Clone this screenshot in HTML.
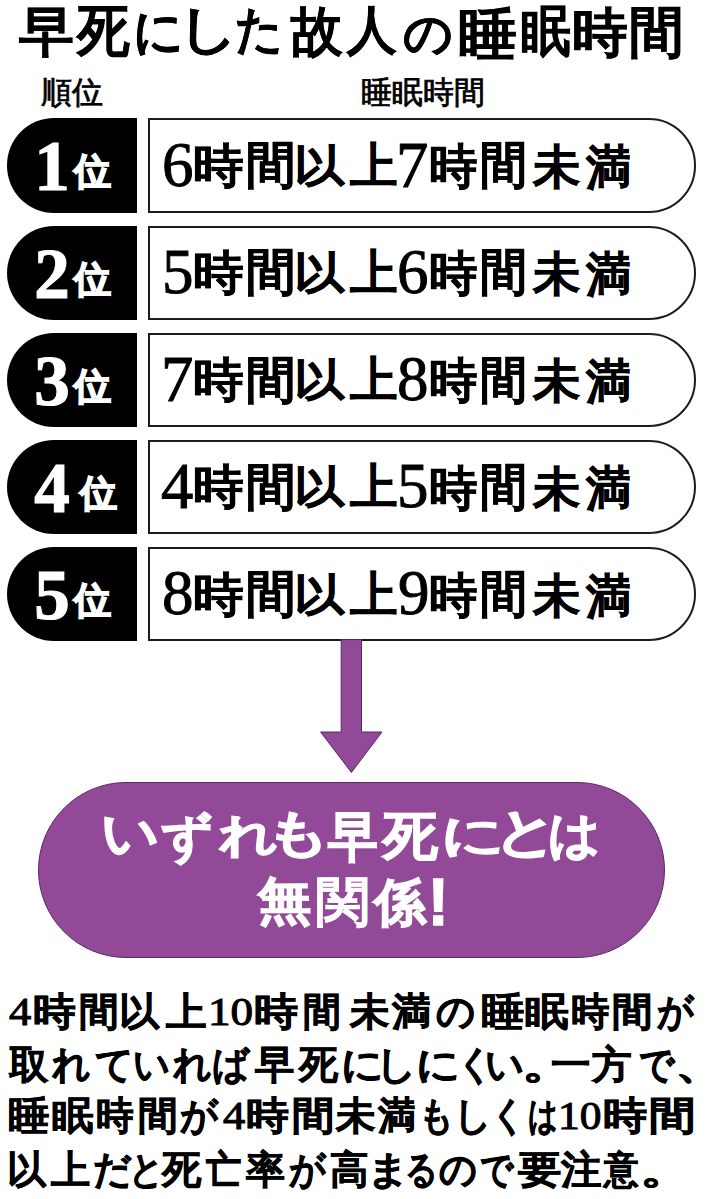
<!DOCTYPE html>
<html lang="ja">
<head>
<meta charset="utf-8">
<style>
html,body{margin:0;padding:0;background:#fff;}
body{width:712px;height:1199px;position:relative;overflow:hidden;font-family:"Liberation Serif",serif;color:#111;}
.abs{position:absolute;white-space:nowrap;}
.title{position:absolute;left:0;top:0;width:712px;height:70px;}
.tch{position:absolute;transform-origin:0 0;white-space:nowrap;font-size:53px;line-height:79.5px;font-weight:bold;-webkit-text-stroke:0.4px #000;color:#000;}
.lbl{font-family:"Liberation Sans",sans-serif;font-size:31.3px;font-weight:normal;line-height:36px;-webkit-text-stroke:0.8px #000;color:#000;}
.row{position:absolute;left:0;width:712px;height:94px;}
.pill{position:absolute;left:6.5px;top:0;width:130.3px;height:94.3px;background:#000;border-radius:47.15px 0 0 47.15px;}
.box{position:absolute;left:147.5px;top:0;width:548.5px;height:94.3px;box-sizing:border-box;border:2px solid #1c1c1c;border-radius:0 47.15px 47.15px 0;background:#fff;}
.rk{position:absolute;transform-origin:0 0;white-space:nowrap;font-size:52px;line-height:78px;font-weight:bold;-webkit-text-stroke:0.5px #000;color:#000;}
.rd{position:absolute;transform-origin:0 0;white-space:nowrap;font-size:60px;line-height:90px;font-weight:normal;-webkit-text-stroke:0.9px #000;color:#000;}
.lab{position:absolute;left:0;top:0;width:130px;height:93.5px;color:#fff;white-space:nowrap;}
.num{position:absolute;left:15.5px;width:60px;text-align:center;top:2px;font-size:71px;font-weight:bold;line-height:93px;-webkit-text-stroke:1.2px #fff;}
.rank{position:absolute;left:67px;top:7px;font-family:"Liberation Sans",sans-serif;font-size:36.5px;font-weight:bold;line-height:93px;-webkit-text-stroke:1.6px #fff;}
.purple{position:absolute;left:38px;top:781.5px;width:626.5px;height:176.5px;background:#924a98;border-radius:88.25px;box-sizing:border-box;border:1.2px solid #5a2566;}
.ptext{position:absolute;left:0;top:0;width:712px;height:1px;}
.pch{position:absolute;transform-origin:0 0;white-space:nowrap;font-family:"Liberation Sans",sans-serif;font-size:55px;line-height:80px;font-weight:bold;-webkit-text-stroke:1.4px #fff;color:#fff;}
.pline{position:absolute;left:0;width:712px;height:52px;}
.pc{position:absolute;top:0;transform-origin:0 0;transform-origin:0 0;white-space:nowrap;font-size:39px;font-weight:bold;line-height:52px;-webkit-text-stroke:0.6px #000;color:#000;}
.pd{font-weight:normal;-webkit-text-stroke:1px #000;}
</style>
</head>
<body>
<div class="title"><span class="tch" style="left:18.5px;top:-7.38px;transform:scale(1.0385,1.0059)">早</span><span class="tch" style="left:76.8px;top:-9.92px;transform:scale(1.0,1.0612)">死</span><span class="tch" style="left:132.76px;top:-5.64px;transform:scale(0.9356,0.9568)">に</span><span class="tch" style="left:177.51px;top:-9.3px;transform:scale(1.1194,0.9833)">し</span><span class="tch" style="left:235.21px;top:-7.58px;transform:scale(0.8936,0.9633)">た</span><span class="tch" style="left:290.96px;top:-8.13px;transform:scale(0.963,1.0096)">故</span><span class="tch" style="left:346.94px;top:-7.87px;transform:scale(0.9444,0.9906)">人</span><span class="tch" style="left:403.08px;top:-0.85px;transform:scale(0.9216,0.9024)">の</span><span class="tch" style="left:457.88px;top:-6.47px;transform:scale(1.1176,1.0392)">睡</span><span class="tch" style="left:521.06px;top:-8.55px;transform:scale(0.9412,1.0392)">眠</span><span class="tch" style="left:571.88px;top:-6.49px;transform:scale(1.06,1.0075)">時</span><span class="tch" style="left:628.92px;top:-9.06px;transform:scale(1.0417,1.0471)">間</span></div>
<div class="abs lbl" style="left:41px;top:74.5px;">順位</div>
<div class="abs lbl" style="left:360.5px;top:75px;">睡眠時間</div>

<div class="row" style="top:118.3px;">
  <div class="pill"><div class="lab"><span class="num">1</span><span class="rank">位</span></div></div>
  <div class="box"></div>
  <span class="rd" style="left:161.72px;top:-0.8px;transform:scale(1.05,1.05)">6</span><span class="rk" style="left:193.04px;top:12.48px;transform:scale(0.9796,0.9096)">時</span><span class="rk" style="left:245.69px;top:9.88px;transform:scale(0.9574,0.966)">間</span><span class="rk" style="left:293.8px;top:15.59px;transform:scale(0.966,0.8423)">以</span><span class="rk" style="left:349.5px;top:12.42px;transform:scale(0.9039,0.9146)">上</span><span class="rd" style="left:395.77px;top:-1.5px;transform:scale(1.0769,1.0769)">7</span><span class="rk" style="left:429.14px;top:12.65px;transform:scale(0.9286,0.9212)">時</span><span class="rk" style="left:480.38px;top:9.88px;transform:scale(0.9106,0.966)">間</span><span class="rk" style="left:532.61px;top:13.75px;transform:scale(0.9113,0.9039)">未</span><span class="rk" style="left:586.47px;top:13.52px;transform:scale(0.8654,0.9235)">満</span>
</div>
<div class="row" style="top:225.5px;">
  <div class="pill"><div class="lab"><span class="num">2</span><span class="rank">位</span></div></div>
  <div class="box"></div>
  <span class="rd" style="left:161.72px;top:-0.8px;transform:scale(1.05,1.05)">5</span><span class="rk" style="left:193.04px;top:12.48px;transform:scale(0.9796,0.9096)">時</span><span class="rk" style="left:245.69px;top:9.88px;transform:scale(0.9574,0.966)">間</span><span class="rk" style="left:293.8px;top:15.59px;transform:scale(0.966,0.8423)">以</span><span class="rk" style="left:349.5px;top:12.42px;transform:scale(0.9039,0.9146)">上</span><span class="rd" style="left:396.72px;top:-0.8px;transform:scale(1.05,1.05)">6</span><span class="rk" style="left:429.14px;top:12.65px;transform:scale(0.9286,0.9212)">時</span><span class="rk" style="left:480.38px;top:9.88px;transform:scale(0.9106,0.966)">間</span><span class="rk" style="left:532.61px;top:13.75px;transform:scale(0.9113,0.9039)">未</span><span class="rk" style="left:586.47px;top:13.52px;transform:scale(0.8654,0.9235)">満</span>
</div>
<div class="row" style="top:332.7px;">
  <div class="pill"><div class="lab"><span class="num">3</span><span class="rank">位</span></div></div>
  <div class="box"></div>
  <span class="rd" style="left:160.77px;top:-1.5px;transform:scale(1.0769,1.0769)">7</span><span class="rk" style="left:193.04px;top:12.48px;transform:scale(0.9796,0.9096)">時</span><span class="rk" style="left:245.69px;top:9.88px;transform:scale(0.9574,0.966)">間</span><span class="rk" style="left:293.8px;top:15.59px;transform:scale(0.966,0.8423)">以</span><span class="rk" style="left:349.5px;top:12.42px;transform:scale(0.9039,0.9146)">上</span><span class="rd" style="left:397.25px;top:-0.8px;transform:scale(1.05,1.05)">8</span><span class="rk" style="left:429.14px;top:12.65px;transform:scale(0.9286,0.9212)">時</span><span class="rk" style="left:480.38px;top:9.88px;transform:scale(0.9106,0.966)">間</span><span class="rk" style="left:532.61px;top:13.75px;transform:scale(0.9113,0.9039)">未</span><span class="rk" style="left:586.47px;top:13.52px;transform:scale(0.8654,0.9235)">満</span>
</div>
<div class="row" style="top:439.9px;">
  <div class="pill"><div class="lab"><span class="num">4</span><span class="rank" style="left:73px">位</span></div></div>
  <div class="box"></div>
  <span class="rd" style="left:161.31px;top:-1.5px;transform:scale(1.0769,1.0769)">4</span><span class="rk" style="left:193.04px;top:12.48px;transform:scale(0.9796,0.9096)">時</span><span class="rk" style="left:245.69px;top:9.88px;transform:scale(0.9574,0.966)">間</span><span class="rk" style="left:293.8px;top:15.59px;transform:scale(0.966,0.8423)">以</span><span class="rk" style="left:349.5px;top:12.42px;transform:scale(0.9039,0.9146)">上</span><span class="rd" style="left:396.72px;top:-0.8px;transform:scale(1.05,1.05)">5</span><span class="rk" style="left:429.14px;top:12.65px;transform:scale(0.9286,0.9212)">時</span><span class="rk" style="left:480.38px;top:9.88px;transform:scale(0.9106,0.966)">間</span><span class="rk" style="left:532.61px;top:13.75px;transform:scale(0.9113,0.9039)">未</span><span class="rk" style="left:586.47px;top:13.52px;transform:scale(0.8654,0.9235)">満</span>
</div>
<div class="row" style="top:547.1px;">
  <div class="pill"><div class="lab"><span class="num">5</span><span class="rank">位</span></div></div>
  <div class="box"></div>
  <span class="rd" style="left:162.25px;top:-0.8px;transform:scale(1.05,1.05)">8</span><span class="rk" style="left:193.04px;top:12.48px;transform:scale(0.9796,0.9096)">時</span><span class="rk" style="left:245.69px;top:9.88px;transform:scale(0.9574,0.966)">間</span><span class="rk" style="left:293.8px;top:15.59px;transform:scale(0.966,0.8423)">以</span><span class="rk" style="left:349.5px;top:12.42px;transform:scale(0.9039,0.9146)">上</span><span class="rd" style="left:397.78px;top:-0.8px;transform:scale(1.05,1.05)">9</span><span class="rk" style="left:429.14px;top:12.65px;transform:scale(0.9286,0.9212)">時</span><span class="rk" style="left:480.38px;top:9.88px;transform:scale(0.9106,0.966)">間</span><span class="rk" style="left:532.61px;top:13.75px;transform:scale(0.9113,0.9039)">未</span><span class="rk" style="left:586.47px;top:13.52px;transform:scale(0.8654,0.9235)">満</span>
</div>

<svg class="abs" style="left:0;top:0" width="712" height="1199" viewBox="0 0 712 1199">
  <path d="M341.2 639.6 L361.5 639.6 L361.5 732 L382 732 L351.4 772.4 L320.6 732 L341.2 732 Z" fill="#924a98" stroke="#5a2566" stroke-width="1"/>
</svg>

<div class="purple"></div>
<div class="ptext"><span class="pch" style="left:100.68px;top:794.61px;transform:scale(1.0412,0.9475)">い</span><span class="pch" style="left:160.7px;top:800.54px;transform:scale(0.9182,0.905)">ず</span><span class="pch" style="left:218.8px;top:800.67px;transform:scale(1.0582,0.8431)">れ</span><span class="pch" style="left:266.08px;top:797.3px;transform:scale(1.1359,0.9)">も</span><span class="pch" style="left:327.8px;top:797.97px;transform:scale(0.8964,0.9593)">早</span><span class="pch" style="left:383.21px;top:798.35px;transform:scale(1.0034,0.95)">死</span><span class="pch" style="left:440.68px;top:802.4px;transform:scale(1.1298,0.8298)">に</span><span class="pch" style="left:494.25px;top:794.45px;transform:scale(1.1316,0.9551)">と</span><span class="pch" style="left:548.12px;top:797.63px;transform:scale(0.9412,0.914)">は</span><span class="pch" style="left:257.97px;top:864.34px;transform:scale(0.9709,0.9123)">無</span><span class="pch" style="left:316.43px;top:862.77px;transform:scale(0.9731,0.9593);-webkit-text-stroke:0.5px #fff">関</span><span class="pch" style="left:374.09px;top:864.86px;transform:scale(0.9448,0.9286)">係</span><span class="pch" style="left:428.12px;top:853.7px;transform:scale(1.12,1.195)">!</span></div>

<div class="pline" style="top:986.0px;"><span class="pc pd" style="left:8.80px;transform:scaleX(1.140)">4</span><span class="pc" style="left:33.00px;transform:scaleX(1.097)">時</span><span class="pc" style="left:78.58px;transform:scaleX(1.019)">間</span><span class="pc" style="left:119.24px;transform:scaleX(1.032)">以</span><span class="pc" style="left:166.30px;transform:scaleX(1.038)">上</span><span class="pc pd" style="left:208.33px;transform:scaleX(1.157)">10</span><span class="pc" style="left:253.67px;transform:scaleX(1.132)">時</span><span class="pc" style="left:303.03px;transform:scaleX(0.972)">間</span><span class="pc" style="left:350.01px;transform:scaleX(1.010)">未</span><span class="pc" style="left:392.00px;transform:scaleX(0.995)">満</span><span class="pc" style="left:436.41px;transform:scaleX(0.989)">の</span><span class="pc" style="left:480.88px;transform:scaleX(1.116)">睡</span><span class="pc" style="left:524.88px;transform:scaleX(1.121)">眠</span><span class="pc" style="left:571.02px;transform:scaleX(0.984)">時</span><span class="pc" style="left:611.76px;transform:scaleX(1.039)">間</span><span class="pc" style="left:657.00px;transform:scaleX(0.927)">が</span></div>
<div class="pline" style="top:1039.0px;"><span class="pc" style="left:8.61px;transform:scaleX(1.010)">取</span><span class="pc" style="left:51.80px;transform:scaleX(0.972)">れ</span><span class="pc" style="left:94.80px;transform:scaleX(0.977)">て</span><span class="pc" style="left:133.14px;transform:scaleX(0.931)">い</span><span class="pc" style="left:172.60px;transform:scaleX(0.974)">れ</span><span class="pc" style="left:212.42px;transform:scaleX(0.941)">ば</span><span class="pc" style="left:254.80px;transform:scaleX(1.005)">早</span><span class="pc" style="left:298.81px;transform:scaleX(1.005)">死</span><span class="pc" style="left:340.68px;transform:scaleX(1.073)">に</span><span class="pc" style="left:376.12px;transform:scaleX(1.023)">し</span><span class="pc" style="left:416.36px;transform:scaleX(1.112)">に</span><span class="pc" style="left:456.95px;transform:scaleX(0.917)">く</span><span class="pc" style="left:485.03px;transform:scaleX(0.983)">い</span><span class="pc" style="left:521.59px;transform:scaleX(1.336)">。</span><span class="pc" style="left:550.69px;transform:scaleX(1.014)">一</span><span class="pc" style="left:591.82px;transform:scaleX(1.018)">方</span><span class="pc" style="left:638.81px;transform:scaleX(0.895)">で</span><span class="pc" style="left:674.90px;transform:scaleX(1.300)">、</span></div>
<div class="pline" style="top:1089.5px;"><span class="pc" style="left:7.73px;transform:scaleX(1.066)">睡</span><span class="pc" style="left:51.93px;transform:scaleX(1.066)">眠</span><span class="pc" style="left:96.33px;transform:scaleX(0.966)">時</span><span class="pc" style="left:137.98px;transform:scaleX(1.019)">間</span><span class="pc" style="left:180.00px;transform:scaleX(0.959)">が</span><span class="pc pd" style="left:223.00px;transform:scaleX(1.140)">4</span><span class="pc" style="left:245.90px;transform:scaleX(1.100)">時</span><span class="pc" style="left:291.51px;transform:scaleX(1.089)">間</span><span class="pc" style="left:336.01px;transform:scaleX(1.012)">未</span><span class="pc" style="left:378.00px;transform:scaleX(0.966)">満</span><span class="pc" style="left:418.75px;transform:scaleX(0.875)">も</span><span class="pc" style="left:453.83px;transform:scaleX(0.946)">し</span><span class="pc" style="left:490.70px;transform:scaleX(0.878)">く</span><span class="pc" style="left:527.50px;transform:scaleX(0.750)">は</span><span class="pc pd" style="left:558.16px;transform:scaleX(1.114)">10</span><span class="pc" style="left:603.47px;transform:scaleX(1.132)">時</span><span class="pc" style="left:648.50px;transform:scaleX(1.197)">間</span></div>
<div class="pline" style="top:1144.0px;"><span class="pc" style="left:6.80px;transform:scaleX(1.000)">以</span><span class="pc" style="left:50.60px;transform:scaleX(1.003)">上</span><span class="pc" style="left:92.53px;transform:scaleX(0.972)">だ</span><span class="pc" style="left:128.76px;transform:scaleX(0.873)">と</span><span class="pc" style="left:162.41px;transform:scaleX(1.010)">死</span><span class="pc" style="left:205.60px;transform:scaleX(0.908)">亡</span><span class="pc" style="left:246.00px;transform:scaleX(1.000)">率</span><span class="pc" style="left:288.80px;transform:scaleX(0.927)">が</span><span class="pc" style="left:329.61px;transform:scaleX(0.989)">高</span><span class="pc" style="left:367.08px;transform:scaleX(1.069)">ま</span><span class="pc" style="left:405.22px;transform:scaleX(0.828)">る</span><span class="pc" style="left:439.04px;transform:scaleX(0.959)">の</span><span class="pc" style="left:479.76px;transform:scaleX(0.842)">で</span><span class="pc" style="left:517.60px;transform:scaleX(1.111)">要</span><span class="pc" style="left:561.40px;transform:scaleX(1.038)">注</span><span class="pc" style="left:604.49px;transform:scaleX(0.885)">意</span><span class="pc" style="left:639.95px;transform:scaleX(1.350)">。</span></div>
</body>
</html>
